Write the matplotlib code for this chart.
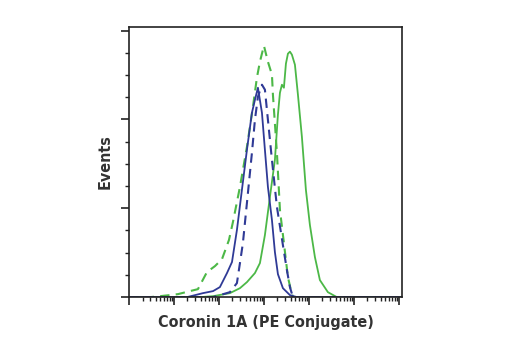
#! /usr/bin/env python3
# flow cytometry histogram: Coronin 1A (PE Conjugate)

import matplotlib
matplotlib.use('Agg')
import matplotlib.pyplot as plt
from matplotlib.ticker import LogLocator, MultipleLocator, NullFormatter

# fluorescence intensity (log axis) and event counts for each histogram
blue_solid_x = [1, 19.5, 44, 74, 105, 151, 195, 251, 324, 419, 541, 631, 736,
                904, 1052, 1227, 1507, 1754, 2046, 2642, 3784, 5408, 1.17e6]
blue_solid_y = [0, 0, 4.5, 6.8, 11.3, 27.1, 39.5, 75.5, 120.6, 165.7, 207.4, 222,
                235.6, 207.4, 165.7, 124, 86.8, 50.7, 25.9, 10.1, 2.3, 0, 0]

blue_dash_x = [1, 74, 175, 251, 293, 341, 419, 541, 631, 736, 904, 1052, 1227,
               1507, 1945, 2642, 3243, 3784, 4406, 1.17e6]
blue_dash_y = [0, 0, 5.6, 15.8, 38.3, 60.9, 106, 162.3, 199.5, 225.5, 239, 233.4,
               199.5, 154.5, 101.5, 58.6, 30.4, 11.3, 0, 0]

green_dash_x = [1, 2.9, 4.9, 8.1, 12.3, 22.7, 34.1, 54.1, 81.5, 117, 167, 205, 293,
                419, 570, 698, 815, 1000, 1227, 1507, 1585, 1945, 2270, 2780, 3415,
                3981, 4406, 1.17e6]
green_dash_y = [0, 0, 1.1, 2.3, 3.4, 6.8, 9.0, 28.2, 34.9, 42.8, 64.3, 84.6, 124,
                169.1, 214.2, 246.9, 264.9, 282.9, 264.9, 250.3, 227.7, 162.3, 98.1,
                60.9, 22.5, 7.9, 0, 0]

green_solid_x = [1, 37.8, 74, 175, 293, 419, 631, 815, 1052, 1359, 1754, 2046, 2270,
                 2512, 2780, 3083, 3415, 3784, 4188, 4887, 5702, 6982, 8577, 10520,
                 13590, 17540, 26420, 41880, 1.17e6]
green_solid_y = [0, 0, 1.1, 4.5, 10.1, 16.9, 27.1, 38.3, 69.9, 112.7, 154.5, 205.2,
                 230, 239, 235.6, 262.7, 273.9, 276.2, 272.8, 261.5, 227.7, 180.4,
                 120.6, 81.2, 45.1, 19.2, 5.6, 0, 0]

green = '#4cb847'
blue = '#2f3a96'

fig = plt.figure(figsize=(5.2, 3.5), dpi=100)
ax = fig.add_axes([0.248, 0.151, 0.525, 0.772])

ax.plot(green_solid_x, green_solid_y, color=green, lw=1.3)
ax.plot(green_dash_x, green_dash_y, color=green, lw=1.5, dashes=(4.5, 3))
ax.plot(blue_solid_x, blue_solid_y, color=blue, lw=1.3)
ax.plot(blue_dash_x, blue_dash_y, color=blue, lw=1.5, dashes=(4.5, 3))

ax.set_xscale('log')
ax.set_xlim(1, 1.17e6)
ax.set_ylim(0, 304)

ax.xaxis.set_major_locator(LogLocator(base=10, numticks=10))
ax.xaxis.set_minor_locator(LogLocator(base=10, subs=range(2, 10), numticks=20))
ax.xaxis.set_major_formatter(NullFormatter())
ax.xaxis.set_minor_formatter(NullFormatter())
ax.yaxis.set_major_locator(MultipleLocator(100))
ax.yaxis.set_minor_locator(MultipleLocator(25))
ax.yaxis.set_major_formatter(NullFormatter())

ax.tick_params(which='major', length=6, width=1.2, color='#222222', direction='out')
ax.tick_params(which='minor', length=3, width=1.0, color='#222222', direction='out')

for s in ax.spines.values():
    s.set_color('#222222')
    s.set_linewidth(1.2)

label_font = dict(family='DejaVu Sans', stretch='condensed', weight='bold',
                  size=11.5, color='#333333')
ax.set_xlabel('Coronin 1A (PE Conjugate)', labelpad=3, **label_font)
ax.set_ylabel('Events', labelpad=2, **label_font)

plt.savefig('out.png', dpi=100)
